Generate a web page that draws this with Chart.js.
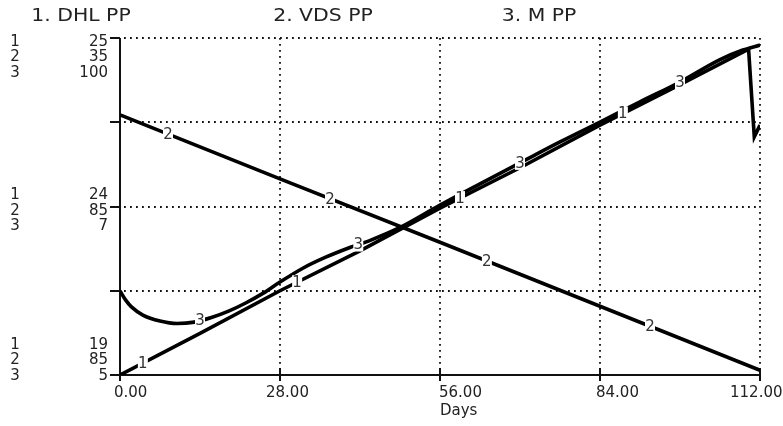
<!DOCTYPE html>
<html>
<head>
<meta charset="utf-8">
<script src="https://cdn.jsdelivr.net/npm/chart.js@4.4.0/dist/chart.umd.min.js"></script>
<style>
  html, body { margin: 0; padding: 0; background: #fff; }
</style>
</head>
<body>
<canvas id="stellaChart" width="783" height="426"></canvas>
<script>
// titles across the top
const seriesTitles = ['1. DHL PP', '2. VDS PP', '3. M PP'];

// 1. DHL PP
const dhlDays = [0, 14, 28, 42, 56, 70, 84, 98, 110, 111, 112];
const dhlValues = [19.0, 19.74, 20.5, 21.21, 21.97, 22.69, 23.45, 24.17, 24.8, 23.24, 23.45];

// 2. VDS PP
const vdsDays = [0, 28, 56, 84, 112];
const vdsValues = [46.4, 55.9, 65.3, 74.8, 84.3];

// 3. M PP
const mDays = [0, 1, 2, 4, 7, 10, 13, 16, 19, 22, 25, 28, 32, 36, 40, 44, 49, 56, 63, 70, 77, 84, 91, 98, 105, 109, 112];
const mValues = [28.7, 26.1, 24.2, 21.9, 20.2, 19.5, 19.9, 21.2, 23.0, 25.3, 28.0, 31.2, 35.1, 38.2, 40.8, 43.1, 46.6,
                 52.9, 58.9, 64.8, 70.7, 76.3, 82.0, 87.6, 93.9, 96.6, 98.0];

// where the series numbers sit on the lines (days)
const dhlLabelDays = [4, 31, 59.5, 88];
const vdsLabelDays = [8.4, 36.75, 64.2, 92.75];
const mLabelDays = [14, 41.7, 70, 98];

// axis texts
const xTickValues = [0, 28, 56, 84, 112];
const xTickLabels = ['0.00', '28.00', '56.00', '84.00', '112.00'];
const xAxisTitle = 'Days';
const leftTopLabels = ['25', '35', '100'];
const leftMidLabels = ['24', '85', '7'];
const leftBottomLabels = ['19', '85', '5'];

const FONT = '"DejaVu Sans", "Liberation Sans", sans-serif';

function toPoints(days, values) {
    return days.map((d, i) => ({ x: d, y: values[i] }));
}

function strokeLine(ctx, x1, y1, x2, y2) {
    ctx.beginPath();
    ctx.moveTo(x1, y1);
    ctx.lineTo(x2, y2);
    ctx.stroke();
}

// y pixel of a drawn line at a given pixel x
function lineYAt(meta, px) {
    const pts = meta.data;
    for (let i = 1; i < pts.length; i++) {
        const a = pts[i - 1], b = pts[i];
        if (px >= a.x && px <= b.x) {
            const t = (px - a.x) / ((b.x - a.x) || 1);
            return a.y + t * (b.y - a.y);
        }
    }
    return pts[pts.length - 1].y;
}

const stellaPlugin = {
    id: 'stella',
    beforeDatasetsDraw(chart) {
        const { ctx, chartArea: a, scales } = chart;
        const xs = scales.x, ys = scales.y1;
        const gridY = [0, 1, 2, 3, 4].map(k => Math.round(ys.getPixelForValue(19 + k * 1.5)));
        ctx.save();

        // dotted grid
        ctx.strokeStyle = '#111';
        ctx.lineWidth = 1.8;
        ctx.setLineDash([1.8, 4.2]);
        gridY.slice(1).forEach(py => strokeLine(ctx, a.left + 4, py, a.right, py));
        xTickValues.slice(1).forEach(d => {
            const px = Math.round(xs.getPixelForValue(d));
            strokeLine(ctx, px, a.top, px, a.bottom - 6);
        });
        ctx.setLineDash([]);

        // axes and ticks
        ctx.strokeStyle = '#111';
        ctx.lineWidth = 2;
        strokeLine(ctx, a.left, a.top, a.left, a.bottom + 1);
        strokeLine(ctx, a.left - 1, a.bottom, a.right + 1, a.bottom);
        gridY.forEach(py => strokeLine(ctx, a.left - 10, py, a.left, py));
        xTickValues.forEach(d => {
            const px = Math.round(xs.getPixelForValue(d));
            strokeLine(ctx, px, a.bottom - 7, px, a.bottom + 6);
        });
        ctx.restore();
    },
    afterDatasetsDraw(chart) {
        const { ctx, scales } = chart;
        const xs = scales.x;
        const groups = [dhlLabelDays, vdsLabelDays, mLabelDays];
        ctx.save();
        ctx.font = '15px ' + FONT;
        ctx.textAlign = 'center';
        ctx.textBaseline = 'middle';
        groups.forEach((days, i) => {
            const meta = chart.getDatasetMeta(i);
            days.forEach(d => {
                const px = xs.getPixelForValue(d);
                const py = lineYAt(meta, px);
                ctx.fillStyle = '#fff';
                ctx.fillRect(px - 5, py - 7, 10, 14);
                ctx.fillStyle = '#333';
                ctx.fillText(String(i + 1), px, py + 1);
            });
        });
        ctx.restore();
    },
    afterDraw(chart) {
        const { ctx, chartArea: a, scales } = chart;
        const xs = scales.x;
        ctx.save();
        ctx.fillStyle = '#222';
        ctx.textBaseline = 'middle';

        // titles
        ctx.font = '17px ' + FONT;
        ctx.textAlign = 'center';
        const titleX = [81, 323, 539];
        seriesTitles.forEach((t, i) => {
            ctx.save();
            ctx.translate(titleX[i], 17);
            ctx.scale(1.2, 1);
            ctx.fillText(t, 0, 0);
            ctx.restore();
        });

        // left scale labels
        ctx.font = '15px ' + FONT;
        const midY = (a.top + a.bottom) / 2;
        const groups = [
            [leftTopLabels, a.top + 4],
            [leftMidLabels, midY - 11],
            [leftBottomLabels, a.bottom - 30]
        ];
        groups.forEach(([labels, y0]) => {
            labels.forEach((lab, k) => {
                const py = y0 + k * 15.5;
                ctx.textAlign = 'center';
                ctx.fillText(String(k + 1), 15, py);
                ctx.textAlign = 'right';
                ctx.fillText(lab, 108, py);
            });
        });

        // x tick labels
        ctx.font = '15px ' + FONT;
        ctx.textAlign = 'left';
        const xOffsets = [-6, -14, -1, -4, -30];
        xTickLabels.forEach((lab, i) => {
            const px = xs.getPixelForValue(xTickValues[i]) + xOffsets[i];
            ctx.fillText(lab, px, a.bottom + 18);
        });
        ctx.fillText(xAxisTitle, xs.getPixelForValue(56), a.bottom + 36);
        ctx.restore();
    }
};

const lineStyle = {
    borderColor: '#000',
    borderWidth: 3.6,
    pointRadius: 0,
    fill: false
};

new Chart(document.getElementById('stellaChart'), {
    type: 'line',
    data: {
        datasets: [
            { ...lineStyle, label: seriesTitles[0], data: toPoints(dhlDays, dhlValues), yAxisID: 'y1', tension: 0 },
            { ...lineStyle, label: seriesTitles[1], data: toPoints(vdsDays, vdsValues), yAxisID: 'y2', tension: 0 },
            { ...lineStyle, label: seriesTitles[2], data: toPoints(mDays, mValues), yAxisID: 'y3', cubicInterpolationMode: 'monotone' }
        ]
    },
    options: {
        responsive: false,
        animation: false,
        events: [],
        layout: { padding: { left: 120, right: 23, top: 38, bottom: 51 } },
        plugins: { legend: { display: false }, tooltip: { enabled: false } },
        scales: {
            x: { type: 'linear', min: 0, max: 112, display: false },
            y1: { min: 19, max: 25, display: false },
            y2: { min: 35, max: 85, reverse: true, display: false },
            y3: { min: 5, max: 100, display: false }
        }
    },
    plugins: [stellaPlugin]
});
</script>
</body>
</html>
